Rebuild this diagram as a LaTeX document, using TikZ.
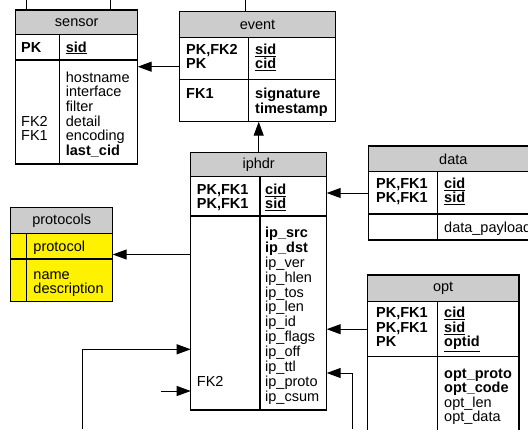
\documentclass[tikz,border=0pt]{standalone}
\usepackage{fontspec}
\setmainfont{Liberation Sans}
\usetikzlibrary{positioning,fit,arrows.meta}
\newcommand{\erfont}{\fontsize{14.5}{14.8}\selectfont}
\tikzset{
        tbl/.style={draw, line width=1.2pt, inner sep=0pt, outer sep=0pt, anchor=north west}, % one section of a table
        hdr/.style={tbl, fill=black!20, font=\erfont}, % grey title bar
        whole/.style={inner sep=0pt, outer sep=0pt}, % invisible box round a table
        fld/.style={anchor=base west, inner sep=0pt, font=\erfont},
        fldb/.style={fld, font=\erfont\bfseries},
        fk/.style={line width=1pt, -{Triangle[length=14pt,width=10pt]}}, % foreign key link
}

\begin{document}
\begin{tikzpicture}[x=1pt,y=-1pt]
\useasboundingbox (0,0) rectangle (528,429);
\clip (0,0) rectangle (528,429);

% sensor
\node[hdr, minimum width=122pt, minimum height=24.7pt] (sensor-h) at (15.7,10) {sensor};
\node[tbl, minimum width=122pt, minimum height=25.3pt, below=0pt of sensor-h] (sensor-key) {};
\node[tbl, minimum width=122pt, minimum height=104pt, below=0pt of sensor-key] (sensor-body) {};
\node[whole, fit=(sensor-h)(sensor-body)] (sensor) {};
\draw[line width=1.2pt] ([xshift=43.6pt]sensor-key.north west) -- ([xshift=43.6pt]sensor-body.south west);
\node[fldb] (sensor-pk) at (21,52) {PK};
\node[fldb] (sensor-sid) at (65.7,52) {\underline{sid}};
\node[fld] (sensor-fk2) at (21,126.1) {FK2};
\node[fld] (sensor-fk1) at (21,140.9) {FK1};
\foreach \f/\st [count=\i] in {hostname/fld, interface/fld, filter/fld, detail/fld, encoding/fld, last\_cid/fldb}
  \node[\st] (sensor-f\i) at (65.7,{82+(\i-1)*14.7}) {\f};

% event
\node[hdr, minimum width=156.4pt, minimum height=25.6pt] (event-h) at (179.3,11.7) {event};
\node[tbl, minimum width=156.4pt, minimum height=42pt, below=0pt of event-h] (event-key) {};
\node[tbl, minimum width=156.4pt, minimum height=42.4pt, below=0pt of event-key] (event-body) {};
\node[whole, fit=(event-h)(event-body)] (event) {};
\draw[line width=1.2pt] ([xshift=69pt]event-key.north west) -- ([xshift=69pt]event-body.south west);
\node[fldb] (event-pk1) at (186,54.3) {PK,FK2};
\node[fldb] (event-pk2) at (186,68.7) {PK};
\node[fldb] (event-sid) at (255,54.3) {\underline{sid}};
\node[fldb] (event-cid) at (255,68.7) {\underline{cid}};
\node[fldb] (event-fk1) at (186,98.3) {FK1};
\node[fldb] (event-f1) at (255,98.3) {signature};
\node[fldb] (event-f2) at (255,113) {timestamp};

% iphdr
\node[hdr, minimum width=136pt, minimum height=24.4pt] (iphdr-h) at (190.7,152.3) {iphdr};
\node[tbl, minimum width=136pt, minimum height=39.3pt, below=0pt of iphdr-h] (iphdr-key) {};
\node[tbl, minimum width=136pt, minimum height=194pt, below=0pt of iphdr-key] (iphdr-body) {};
\node[whole, fit=(iphdr-h)(iphdr-body)] (iphdr) {};
\draw[line width=1.2pt] ([xshift=69.3pt]iphdr-key.north west) -- ([xshift=69.3pt]iphdr-body.south west);
\node[fldb] (iphdr-pk1) at (196.7,194.3) {PK,FK1};
\node[fldb] (iphdr-pk2) at (196.7,208.7) {PK,FK1};
\node[fldb] (iphdr-cid) at (265,194.3) {\underline{cid}};
\node[fldb] (iphdr-sid) at (265,208.7) {\underline{sid}};
\foreach \f/\st [count=\i] in {ip\_src/fldb, ip\_dst/fldb, ip\_ver/fld, ip\_hlen/fld, ip\_tos/fld, ip\_len/fld,
  ip\_id/fld, ip\_flags/fld, ip\_off/fld, ip\_ttl/fld, ip\_proto/fld, ip\_csum/fld}
  \node[\st] (iphdr-f\i) at (265,{237.7+(\i-1)*14.85}) {\f};
\node[fld] (iphdr-fk2) at (196.7,386.2) {FK2};

% protocols
\node[hdr, minimum width=102pt, minimum height=26pt] (protocols-h) at (10.7,207.3) {protocols};
\node[tbl, fill=yellow, minimum width=102pt, minimum height=25.7pt, below=0pt of protocols-h] (protocols-key) {};
\node[tbl, fill=yellow, minimum width=102pt, minimum height=42.7pt, below=0pt of protocols-key] (protocols-body) {};
\node[whole, fit=(protocols-h)(protocols-body)] (protocols) {};
\draw[line width=1.2pt] ([xshift=16pt]protocols-key.north west) -- ([xshift=16pt]protocols-body.south west);
\node[fld] (protocols-pk) at (33.3,251.7) {protocol};
\node[fld] (protocols-f1) at (33.3,279.3) {name};
\node[fld] (protocols-f2) at (33.3,293.3) {description};

% data
\node[hdr, minimum width=170pt, minimum height=25.7pt] (data-h) at (368.3,146) {data};
\node[tbl, minimum width=170pt, minimum height=42.3pt, below=0pt of data-h] (data-key) {};
\node[tbl, minimum width=170pt, minimum height=26pt, below=0pt of data-key] (data-body) {};
\node[whole, fit=(data-h)(data-body)] (data) {};
\draw[line width=1.2pt] ([xshift=69pt]data-key.north west) -- ([xshift=69pt]data-body.south west);
\node[fldb] (data-pk1) at (376,188.3) {PK,FK1};
\node[fldb] (data-pk2) at (376,202.7) {PK,FK1};
\node[fldb] (data-cid) at (444,188.3) {\underline{cid}};
\node[fldb] (data-sid) at (444,202.7) {\underline{sid}};
\node[fld] (data-f1) at (444,232) {data\_payload};

% opt
\node[hdr, minimum width=151.7pt, minimum height=26.7pt] (opt-h) at (367.3,275) {opt};
\node[tbl, minimum width=151.7pt, minimum height=55pt, below=0pt of opt-h] (opt-key) {};
\node[tbl, minimum width=151.7pt, minimum height=90pt, below=0pt of opt-key] (opt-body) {};
\draw[line width=1.2pt] ([xshift=70pt]opt-key.north west) -- ([xshift=70pt]opt-body.south west);
\node[fldb] (opt-pk1) at (376,317.7) {PK,FK1};
\node[fldb] (opt-pk2) at (376,332.3) {PK,FK1};
\node[fldb] (opt-pk3) at (376,346.5) {PK};
\node[fldb] (opt-cid) at (444,317.7) {\underline{cid}};
\node[fldb] (opt-sid) at (444,332.3) {\underline{sid}};
\node[fldb] (opt-id) at (444,346.5) {\underline{optid}};
\foreach \f/\st [count=\i] in {opt\_proto/fldb, opt\_code/fldb, opt\_len/fld, opt\_data/fld}
  \node[\st] (opt-f\i) at (444,{378.3+(\i-1)*14.4}) {\f};

% links
\draw[fk] (event.west) -- (sensor.east |- event.west);
\draw[fk] (iphdr.north) -- (event.south -| iphdr.north);
\draw[fk] (data.west) -- (iphdr.east |- data.west);
\draw[fk] (opt-key.west) -- (iphdr.east |- opt-key.west);
\draw[fk] (iphdr.west |- protocols.east) -- (protocols.east);
\coordinate (in1) at (82.3,429);
\coordinate (in1b) at (82.3,349.3);
\draw[fk] (in1) -- (in1b) -- (iphdr.west |- in1b);
\coordinate (in2) at (160.7,391);
\draw[fk] (in2) -- (iphdr.west |- in2);
\coordinate (in3) at (352.7,429);
\coordinate (in3b) at (352.7,373);
\draw[fk] (in3) -- (in3b) -- (iphdr.east |- in3b);
% links leaving the top edge
\coordinate (up1) at (26.7,0);
\coordinate (up2) at (110,0);
\coordinate (up3) at (245,0);
\draw[line width=1pt] (up1) -- (sensor.north -| up1);
\draw[line width=1pt] (up2) -- (sensor.north -| up2);
\draw[line width=1pt] (up3) -- (event.north -| up3);

\end{tikzpicture}
\end{document}
